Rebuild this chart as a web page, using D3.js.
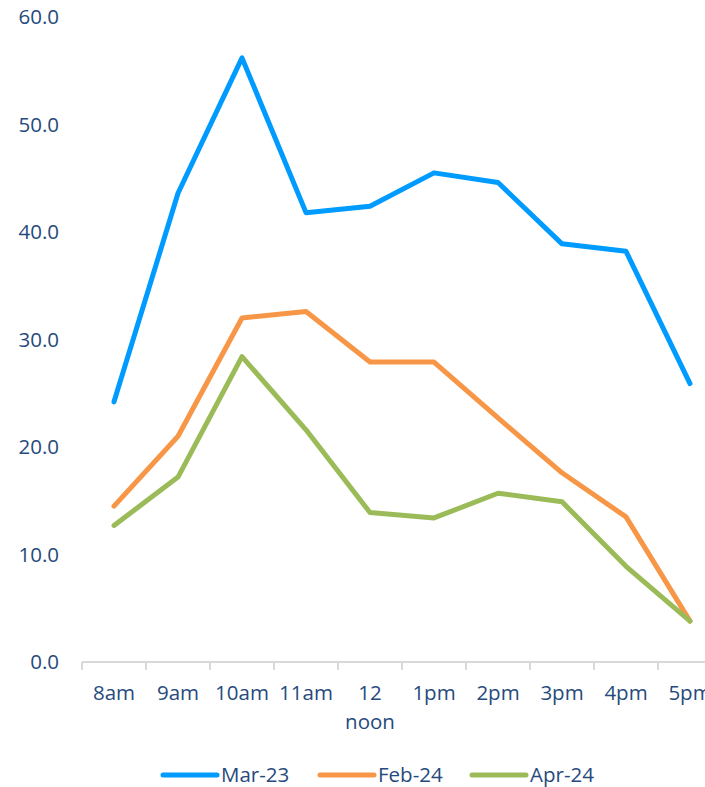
<!DOCTYPE html>
<html>
<head>
<meta charset="utf-8">
<script src="https://cdn.jsdelivr.net/npm/d3@7"></script>
<style>
  html, body { margin: 0; padding: 0; background: #fff; overflow: hidden; }
  svg { display: block; }
  text { font-family: "Open Sans", "Liberation Sans", sans-serif; fill: #264a7d; }
</style>
</head>
<body>
<svg id="chart" width="705" height="787"></svg>
<script>
// Hourly readings, three survey periods
const hours = ["8am", "9am", "10am", "11am", "12\nnoon", "1pm", "2pm", "3pm", "4pm", "5pm"];
const mar23 = [24.2, 43.6, 56.2, 41.8, 42.4, 45.5, 44.6, 38.9, 38.2, 25.9];
const feb24 = [14.5, 21.0, 32.0, 32.6, 27.9, 27.9, 22.7, 17.6, 13.5, 3.8];
const apr24 = [12.7, 17.2, 28.4, 21.6, 13.9, 13.4, 15.7, 14.9, 8.9, 3.8];
const yTicks = [0, 10, 20, 30, 40, 50, 60];

const series = [
  { name: "Mar-23", values: mar23, color: "#009bff" },
  { name: "Feb-24", values: feb24, color: "#f79646" },
  { name: "Apr-24", values: apr24, color: "#9bbb59" }
];

const svg = d3.select("#chart");
const fontSize = 20.5;

const x = d3.scaleBand().domain(hours).range([82, 722]);
const y = d3.scaleLinear().domain([0, 60]).range([662, 17]);

// Y labels (no axis line, no gridlines)
svg.append("g")
  .selectAll("text")
  .data(yTicks)
  .join("text")
  .attr("x", 59)
  .attr("y", d => y(d))
  .attr("dy", "0.35em")
  .attr("text-anchor", "end")
  .style("font-size", fontSize + "px")
  .text(d => d.toFixed(1));

// X axis: baseline with ticks at category boundaries
const xAxis = svg.append("g");
xAxis.append("line")
  .attr("x1", x.range()[0]).attr("x2", x.range()[1])
  .attr("y1", y(0)).attr("y2", y(0))
  .attr("stroke", "#d9d9d9").attr("stroke-width", 2);
const boundaries = hours.map(h => x(h)).concat([x.range()[1]]);
xAxis.selectAll("line.tick")
  .data(boundaries)
  .join("line")
  .attr("class", "tick")
  .attr("x1", d => d).attr("x2", d => d)
  .attr("y1", y(0)).attr("y2", y(0) + 8)
  .attr("stroke", "#d9d9d9").attr("stroke-width", 2);

xAxis.selectAll("text")
  .data(hours)
  .join("text")
  .attr("text-anchor", "middle")
  .attr("x", d => x(d) + x.bandwidth() / 2)
  .attr("y", 700)
  .style("font-size", fontSize + "px")
  .each(function(d) {
    const parts = d.split("\n");
    d3.select(this).selectAll("tspan")
      .data(parts)
      .join("tspan")
      .attr("x", x(d) + x.bandwidth() / 2)
      .attr("dy", (p, i) => i === 0 ? 0 : 29)
      .text(p => p);
  });

// Lines
const line = d3.line()
  .x((v, i) => x(hours[i]) + x.bandwidth() / 2)
  .y(v => y(v));

svg.append("g")
  .selectAll("path")
  .data(series)
  .join("path")
  .attr("d", s => line(s.values))
  .attr("fill", "none")
  .attr("stroke", s => s.color)
  .attr("stroke-width", 5)
  .attr("stroke-linecap", "round")
  .attr("stroke-linejoin", "round");

// Legend
const legendX = [163, 320, 472];
const legend = svg.append("g")
  .selectAll("g")
  .data(series)
  .join("g")
  .attr("transform", (s, i) => `translate(${legendX[i]},775)`);
legend.append("line")
  .attr("x1", 0).attr("x2", 54)
  .attr("y1", 0).attr("y2", 0)
  .attr("stroke", s => s.color)
  .attr("stroke-width", 5)
  .attr("stroke-linecap", "round");
legend.append("text")
  .attr("x", 58)
  .attr("y", 0)
  .attr("dy", "0.35em")
  .style("font-size", fontSize + "px")
  .text(s => s.name);
</script>
</body>
</html>
